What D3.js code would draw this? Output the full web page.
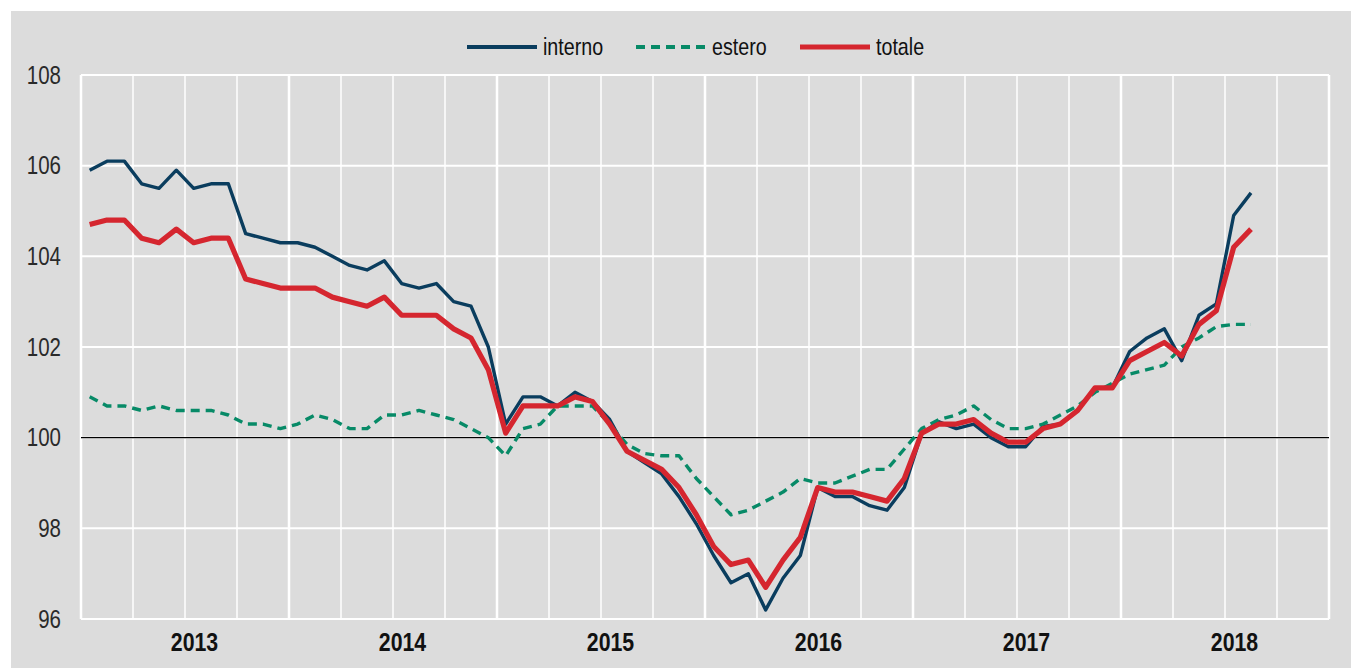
<!DOCTYPE html>
<html>
<head>
<meta charset="utf-8">
<script src="https://cdn.jsdelivr.net/npm/d3@7"></script>
<style>
  body { margin: 0; background: #fff; }
  svg { display: block; }
  text { font-family: "Liberation Sans Narrow", "Arial Narrow", "Liberation Sans", Arial, sans-serif; }
</style>
</head>
<body>
<div id="chart"></div>
<script>
// monthly data, Jan 2013 - Aug 2018
const years = [2013, 2014, 2015, 2016, 2017, 2018];
const yTicks = [96, 98, 100, 102, 104, 106, 108];

const interno = [
  105.9, 106.1, 106.1, 105.6, 105.5, 105.9, 105.5, 105.6, 105.6, 104.5, 104.4, 104.3,
  104.3, 104.2, 104.0, 103.8, 103.7, 103.9, 103.4, 103.3, 103.4, 103.0, 102.9, 102.0,
  100.3, 100.9, 100.9, 100.7, 101.0, 100.8, 100.4, 99.7, 99.45, 99.2, 98.7, 98.1,
  97.4, 96.8, 97.0, 96.2, 96.9, 97.4, 98.9, 98.7, 98.7, 98.5, 98.4, 98.9,
  100.1, 100.35, 100.2, 100.3, 100.0, 99.8, 99.8, 100.25, 100.3, 100.6, 101.1, 101.1,
  101.9, 102.2, 102.4, 101.7, 102.7, 102.95, 104.9, 105.4
];
const estero = [
  100.9, 100.7, 100.7, 100.6, 100.7, 100.6, 100.6, 100.6, 100.5, 100.3, 100.3, 100.2,
  100.3, 100.5, 100.4, 100.2, 100.2, 100.5, 100.5, 100.6, 100.5, 100.4, 100.2, 100.0,
  99.6, 100.2, 100.3, 100.7, 100.7, 100.7, 100.3, 99.85, 99.65, 99.6, 99.6, 99.1,
  98.7, 98.3, 98.4, 98.6, 98.8, 99.1, 99.0, 99.0, 99.15, 99.3, 99.3, 99.75,
  100.2, 100.4, 100.5, 100.7, 100.4, 100.2, 100.2, 100.3, 100.5, 100.7, 101.0, 101.2,
  101.4, 101.5, 101.6, 102.0, 102.2, 102.45, 102.5, 102.5
];
const totale = [
  104.7, 104.8, 104.8, 104.4, 104.3, 104.6, 104.3, 104.4, 104.4, 103.5, 103.4, 103.3,
  103.3, 103.3, 103.1, 103.0, 102.9, 103.1, 102.7, 102.7, 102.7, 102.4, 102.2, 101.5,
  100.1, 100.7, 100.7, 100.7, 100.9, 100.8, 100.3, 99.7, 99.5, 99.3, 98.9, 98.3,
  97.6, 97.2, 97.3, 96.7, 97.3, 97.8, 98.9, 98.8, 98.8, 98.7, 98.6, 99.1,
  100.1, 100.3, 100.3, 100.4, 100.1, 99.9, 99.9, 100.2, 100.3, 100.6, 101.1, 101.1,
  101.7, 101.9, 102.1, 101.8, 102.5, 102.8, 104.2, 104.6
];

const width = 1362, height = 668;
const plotLeft = 81, plotRight = 1329, plotTop = 75, plotBottom = 619;
const narrow = "scale(0.82,1)"; // no Arial Narrow here, squeeze the sans instead

const svg = d3.select("#chart").append("svg")
  .attr("width", width)
  .attr("height", height);

// grey panel
svg.append("rect")
  .attr("x", 11).attr("y", 11)
  .attr("width", 1340).attr("height", height - 11)
  .attr("fill", "#dcdcdc");

const months = years.length * 12;
const x = d3.scaleLinear().domain([0, months]).range([plotLeft, plotRight]);
const y = d3.scaleLinear().domain([96, 108]).range([plotBottom, plotTop]);

// horizontal grid
svg.append("g")
  .selectAll("line")
  .data(yTicks)
  .join("line")
  .attr("x1", plotLeft).attr("x2", plotRight)
  .attr("y1", d => y(d)).attr("y2", d => y(d))
  .attr("stroke", "#fff")
  .attr("stroke-width", 2);

// vertical grid every quarter, thicker at year change
svg.append("g")
  .selectAll("line")
  .data(d3.range(0, months + 1, 3))
  .join("line")
  .attr("x1", d => x(d)).attr("x2", d => x(d))
  .attr("y1", plotTop).attr("y2", plotBottom)
  .attr("stroke", "#fff")
  .attr("stroke-width", d => d % 12 === 0 ? 2.5 : 1.5);

// reference line at 100
svg.append("line")
  .attr("x1", plotLeft).attr("x2", plotRight)
  .attr("y1", y(100)).attr("y2", y(100))
  .attr("stroke", "#000")
  .attr("stroke-width", 1.2);

// y axis labels
const yAxis = svg.append("g")
  .attr("transform", `translate(${plotLeft - 20},0)`)
  .call(d3.axisLeft(y).tickValues(yTicks).tickSize(0).tickPadding(0).tickFormat(d3.format("d")));
yAxis.select(".domain").remove();
yAxis.selectAll("text")
  .attr("transform", narrow)
  .style("font-size", "25px")
  .attr("fill", "#2a2a2a");

// year labels centred on each year
const xAxis = svg.append("g")
  .attr("transform", `translate(9,${plotBottom + 14})`)
  .call(d3.axisBottom(x).tickValues(years.map((d, i) => i * 12 + 6)).tickSize(0).tickPadding(0)
    .tickFormat((d, i) => years[i]));
xAxis.select(".domain").remove();
xAxis.selectAll("text")
  .attr("transform", narrow)
  .style("font-size", "26px")
  .style("font-weight", "bold")
  .attr("fill", "#111");

const line = d3.line()
  .x((d, i) => x(i + 0.5))
  .y(d => y(d));

const series = [
  { name: "interno", values: interno, color: "#0a3d5e", width: 3.4, dash: null },
  { name: "estero", values: estero, color: "#078a67", width: 3.4, dash: "9,6" },
  { name: "totale", values: totale, color: "#d5262f", width: 5.2, dash: null }
];

svg.append("g")
  .selectAll("path")
  .data(series)
  .join("path")
  .attr("d", d => line(d.values))
  .attr("fill", "none")
  .attr("stroke", d => d.color)
  .attr("stroke-width", d => d.width)
  .attr("stroke-dasharray", d => d.dash)
  .attr("stroke-linejoin", "round");

// legend
const legendX = [467, 636, 800];
const legend = svg.append("g")
  .selectAll("g")
  .data(series)
  .join("g")
  .attr("transform", (d, i) => `translate(${legendX[i]},47)`);

legend.append("line")
  .attr("x1", 0).attr("x2", 70)
  .attr("stroke", d => d.color)
  .attr("stroke-width", d => d.name === "totale" ? 5 : 4)
  .attr("stroke-dasharray", d => d.dash);

legend.append("text")
  .attr("transform", "translate(76,0) " + narrow)
  .attr("dy", "0.35em")
  .style("font-size", "24px")
  .attr("fill", "#111")
  .text(d => d.name);
</script>
</body>
</html>
